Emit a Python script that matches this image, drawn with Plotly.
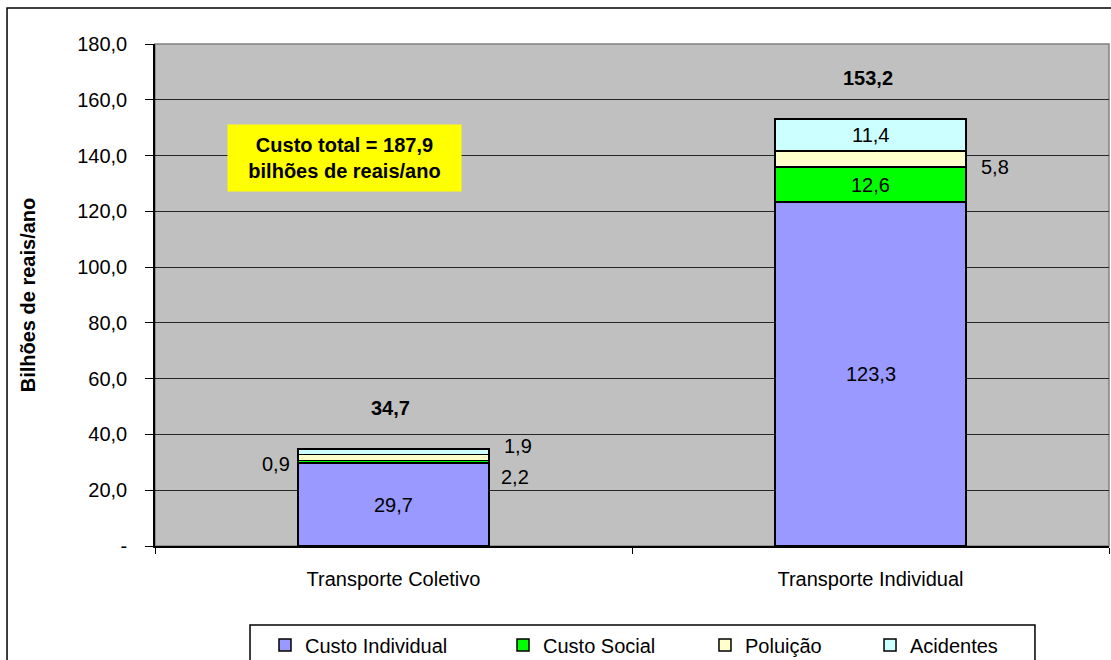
import plotly.graph_objects as go

# data
categorias = ["Transporte Coletivo", "Transporte Individual"]
custo_individual = [29.7, 123.3]
custo_social = [0.9, 12.6]
poluicao = [2.2, 5.8]
acidentes = [1.9, 11.4]
totais = [34.7, 153.2]
custo_total = 187.9

y_ticks = [0, 20, 40, 60, 80, 100, 120, 140, 160, 180]
y_ticktext = ["-"] + [("%.1f" % v).replace(".", ",") for v in y_ticks[1:]]

series = [
    ("Custo Individual", custo_individual, "#9999FF"),
    ("Custo Social", custo_social, "#00FF00"),
    ("Poluição", poluicao, "#FFFFCC"),
    ("Acidentes", acidentes, "#CCFFFF"),
]

# label placement per (category, series): (xanchor, xshift, yshift)
label_pos = {
    (0, 0): ("center", 0, 0),
    (0, 1): ("right", -102, -2),
    (0, 2): ("left", 105, -19),
    (0, 3): ("left", 108, 6),
    (1, 0): ("center", 0, 0),
    (1, 1): ("center", 0, 0),
    (1, 2): ("left", 108, -8),
    (1, 3): ("center", 0, 0),
}

# one legend per series so the entries sit where the original has them
legend_x = [0.1153, 0.3648, 0.5765, 0.7495]

FONT = "Liberation Sans, Arial, sans-serif"


def fmt(v):
    return ("%.1f" % v).replace(".", ",")


fig = go.Figure()

for i, (name, vals, color) in enumerate(series):
    fig.add_trace(go.Bar(
        x=categorias,
        y=vals,
        name=name,
        width=0.4,
        marker=dict(color=color, line=dict(color="black", width=1.5)),
        legend="legend" if i == 0 else "legend%d" % (i + 1),
        hoverinfo="skip",
    ))

# segment labels
base = [0.0] * len(categorias)
for si, (name, vals, color) in enumerate(series):
    for ci, cat in enumerate(categorias):
        mid = base[ci] + vals[ci] / 2
        anchor, xs, ys = label_pos[(ci, si)]
        fig.add_annotation(
            x=cat, y=mid, xref="x", yref="y",
            text=fmt(vals[ci]),
            showarrow=False,
            xanchor=anchor, yanchor="middle", xshift=xs, yshift=ys,
            font=dict(family=FONT, size=20, color="black"),
        )
        base[ci] += vals[ci]

# totals above bars
for ci, cat in enumerate(categorias):
    fig.add_annotation(
        x=cat, y=totais[ci], xref="x", yref="y",
        text="<b>%s</b>" % fmt(totais[ci]),
        showarrow=False, yshift=41, xshift=-3,
        xanchor="center", yanchor="middle",
        font=dict(family=FONT, size=20, color="black"),
    )

# yellow total cost box
fig.add_annotation(
    xref="paper", yref="paper",
    x=0.199, y=0.773,
    xanchor="center", yanchor="middle",
    text="<b>Custo total = %s<br>bilhões de reais/ano</b>" % fmt(custo_total),
    showarrow=False,
    bgcolor="#FFFF00",
    width=231, height=64,
    font=dict(family=FONT, size=20, color="black"),
)

# plot area border, legend box and outer chart border
fig.add_shape(type="rect", xref="paper", yref="paper",
              x0=0, x1=1, y0=0, y1=1,
              line=dict(color="#808080", width=1.5), layer="below")
fig.add_shape(type="rect", xref="paper", yref="paper",
              x0=0.0996, x1=0.9224, y0=-0.3, y1=-0.1574,
              fillcolor="white", line=dict(color="black", width=1.5))
fig.add_shape(type="rect", xref="paper", yref="paper",
              x0=-0.1551, x1=1.1, y0=-0.4, y1=1.0717,
              line=dict(color="black", width=1.5))

legend_style = dict(
    orientation="h",
    xanchor="left",
    y=-0.197, yanchor="middle",
    bgcolor="rgba(0,0,0,0)",
    borderwidth=0,
    font=dict(family=FONT, size=20, color="black"),
)
legends = {}
for i, lx in enumerate(legend_x):
    key = "legend" if i == 0 else "legend%d" % (i + 1)
    legends[key] = dict(legend_style, x=lx)

fig.update_layout(
    barmode="stack",
    width=1111, height=660,
    margin=dict(l=155, r=2, t=44, b=114, autoexpand=False),
    plot_bgcolor="#C0C0C0",
    paper_bgcolor="white",
    font=dict(family=FONT, size=20, color="black"),
    showlegend=True,
    yaxis=dict(
        range=[0, 180],
        tickvals=y_ticks,
        ticktext=y_ticktext,
        ticks="outside", ticklen=8, tickcolor="black",
        ticklabelstandoff=14,
        showgrid=True, gridcolor="#262626", gridwidth=1,
        showline=True, linecolor="black", linewidth=1.5,
        zeroline=False,
        automargin=False,
        title=dict(text="<b>Bilhões de reais/ano</b>", font=dict(family=FONT, size=20), standoff=36),
        tickfont=dict(family=FONT, size=20),
    ),
    xaxis=dict(
        range=[-0.5, 1.5],
        ticks="outside", ticklen=6, tickcolor="black",
        tickson="boundaries",
        showline=True, linecolor="black", linewidth=1.5,
        automargin=False,
        tickfont=dict(family=FONT, size=20),
        ticklabelstandoff=14,
    ),
    **legends,
)

# the page's default body margin would shift the whole chart by 8px
fig.write_html(
    "out.html",
    config={"displayModeBar": False},
    post_script="document.body.style.margin='0';",
)
